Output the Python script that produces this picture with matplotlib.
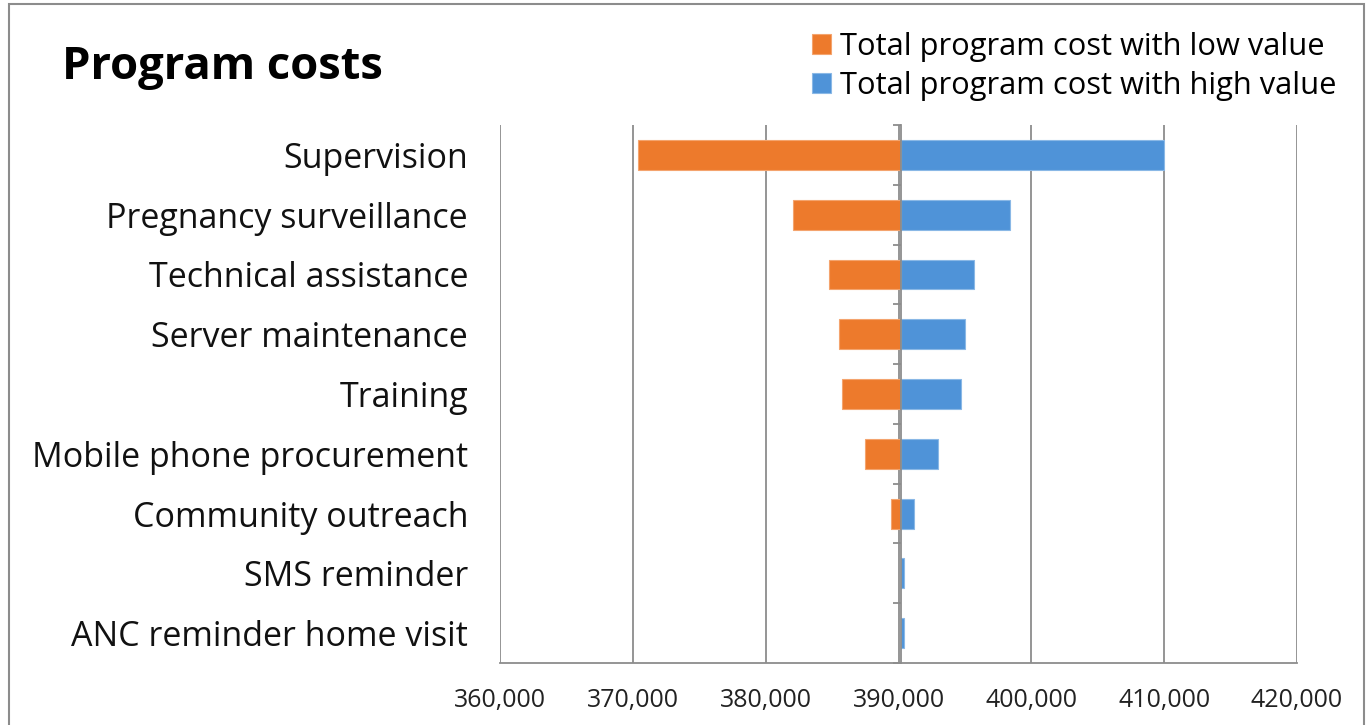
import matplotlib
matplotlib.use("Agg")
import matplotlib.pyplot as plt
from matplotlib.patches import Rectangle
from matplotlib.ticker import FuncFormatter

categories = ["Supervision", "Pregnancy surveillance", "Technical assistance",
              "Server maintenance", "Training", "Mobile phone procurement",
              "Community outreach", "SMS reminder", "ANC reminder home visit"]
base_cost = 390200
low_cost = [370400, 382080, 384800, 385530, 385780, 387480, 389430, 390180, 390180]
high_cost = [410000, 398370, 395650, 394980, 394720, 392980, 391150, 390420, 390420]
x_ticks = [360000, 370000, 380000, 390000, 400000, 410000, 420000]

FONT = "Open Sans"
GRID = "#8c8c8c"
ORANGE = "#ED7A2C"
BLUE = "#4F93D8"

plt.rcParams["font.family"] = [FONT, "DejaVu Sans"]

fig = plt.figure(figsize=(13.68, 7.25), dpi=100)
ax = fig.add_axes([500 / 1368, 1 - 663 / 725, 797 / 1368, 538 / 725])

y = list(range(len(categories)))
low_w = [lo - base_cost for lo in low_cost]
high_w = [hi - base_cost for hi in high_cost]
ax.barh(y, low_w, left=base_cost, height=0.5, color=ORANGE,
        edgecolor="#f4a46e", linewidth=0.8, label="Total program cost with low value", zorder=3)
ax.barh(y, high_w, left=base_cost, height=0.5, color=BLUE,
        edgecolor="#8ab8e6", linewidth=0.8, label="Total program cost with high value", zorder=3)

ax.set_xlim(x_ticks[0], x_ticks[-1])
ax.set_ylim(len(categories) - 0.5, -0.5)
ax.set_xticks(x_ticks)
ax.xaxis.set_major_formatter(FuncFormatter(lambda v, p: f"{int(v):,}"))
ax.tick_params(axis="x", length=0, pad=18, labelsize=18, labelcolor="#222222")
ax.grid(axis="x", color=GRID, linewidth=1.3, zorder=0)

# vertical axis sits at the base value, ticks between categories
ax.spines["left"].set_position(("data", base_cost))
ax.spines["left"].set_color(GRID)
ax.spines["left"].set_linewidth(1.3)
ax.spines["left"].set_zorder(4)
ax.set_yticks(y)
ax.set_yticklabels([])
ax.tick_params(axis="y", which="major", length=0)
ax.set_yticks([i - 0.5 for i in range(len(categories) + 1)], minor=True)
ax.tick_params(axis="y", which="minor", length=6, width=1.3, color=GRID, direction="out")
for s in ("top", "right"):
    ax.spines[s].set_visible(False)
ax.spines["bottom"].set_color(GRID)
ax.spines["bottom"].set_linewidth(1.3)

for i, name in enumerate(categories):
    ax.text(-0.04, i, name, transform=ax.get_yaxis_transform(), ha="right",
            va="center_baseline", fontsize=24.5, color="#111111")

fig.text(62 / 1368, 1 - 62 / 725, "Program costs", fontsize=32.7, weight="bold",
         va="center_baseline", ha="left", color="black")

fig.legend(loc="upper left", bbox_to_anchor=(812 / 1368, 1 - 32 / 725), frameon=False,
           fontsize=22.2, handlelength=0.62, handleheight=0.62, handletextpad=0.3,
           labelspacing=0.28, borderaxespad=0, borderpad=0)

fig.patches.append(Rectangle((9 / 1368, -0.05), 1355 / 1368, 1.05 - 4 / 725,
                             transform=fig.transFigure, fill=False,
                             edgecolor="#8c8c8c", linewidth=1.5))

fig.savefig("out.png", dpi=100)
